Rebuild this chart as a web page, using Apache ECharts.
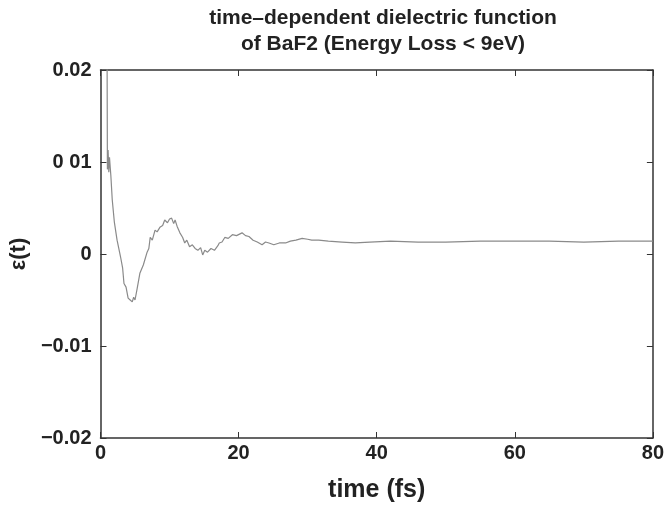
<!DOCTYPE html>
<html>
<head>
<meta charset="utf-8">
<script src="https://cdn.jsdelivr.net/npm/echarts@6/dist/echarts.min.js"></script>
<style>
  html, body { margin: 0; padding: 0; background: #fff; }
  #main { width: 667px; height: 510px; }
</style>
</head>
<body>
<div id="main"></div>
<script>
// time (fs)
var times = [0.9, 1.0, 1.1, 1.2, 1.3, 1.5, 1.7, 2.0, 2.4, 2.6, 2.9, 3.2, 3.4, 3.7, 4.0, 4.3, 4.6, 4.8, 5.0, 5.3,
  5.7, 6.2, 6.75, 7.0, 7.2, 7.5, 7.9, 8.2, 8.6, 9.0, 9.3, 9.7, 10.0, 10.3, 10.6, 10.8, 11.1, 11.5, 11.9, 12.2,
  12.5, 12.9, 13.3, 13.7, 14.1, 14.5, 14.8, 15.1, 15.5, 16.0, 16.5, 17.0, 17.2, 17.6, 18.0, 18.5, 19.1, 19.7,
  20.5, 21.0, 21.5, 22.1, 22.7, 23.4, 23.9, 24.4, 25.1, 25.9, 26.8, 27.5, 28.3, 29.2, 30.0, 30.6, 31.6, 33,
  35, 36.9, 39, 42, 46, 50, 55, 60, 65, 70, 75, 80];
// ε(t)
var eps = [0.035, 0.0092, 0.0113, 0.0089, 0.0105, 0.0085, 0.0059, 0.0035, 0.0015, 0.0013, -0.0003, -0.0015,
  -0.0032, -0.0036, -0.0048, -0.0050, -0.0052, -0.0047, -0.0050, -0.0038, -0.0021, -0.0012, 0.0002, 0.0006,
  0.0018, 0.0015, 0.0026, 0.0024, 0.0029, 0.0031, 0.0037, 0.0034, 0.0038, 0.0039, 0.0033, 0.0037, 0.0030,
  0.0023, 0.0018, 0.0012, 0.0015, 0.0008, 0.0010, 0.0006, 0.0004, 0.0007, -0.0001, 0.0004, 0.0002, 0.0006,
  0.0004, 0.0009, 0.0012, 0.0013, 0.0018, 0.0017, 0.0021, 0.0020, 0.0023, 0.0020, 0.0019, 0.0015, 0.0013,
  0.0010, 0.0013, 0.0012, 0.0010, 0.0012, 0.0012, 0.0014, 0.0015, 0.0017, 0.0016, 0.0015, 0.0015, 0.0014,
  0.0013, 0.0012, 0.0013, 0.0014, 0.0013, 0.0013, 0.0014, 0.0014, 0.0014, 0.0013, 0.0014, 0.0014];
// y tick labels as printed
var yTickLabels = { '0.02': '0.02', '0.01': '0 01', '0': '0', '-0.01': '\u22120.01', '-0.02': '\u22120.02' };

var font = '"Liberation Sans Narrow", "Liberation Sans", Arial, sans-serif';
var points = times.map(function (t, i) { return [t, eps[i]]; });

var chart = echarts.init(document.getElementById('main'));

function frameAxis(extra) {
  return Object.assign({
    axisLine: { show: true, onZero: false, lineStyle: { color: '#333', width: 1.5 } },
    axisTick: { show: true, inside: true, length: 6, lineStyle: { color: '#333', width: 1 } },
    splitLine: { show: false }
  }, extra);
}

chart.setOption({
  animation: false,
  title: {
    text: 'time\u2013dependent dielectric function\nof BaF2 (Energy Loss < 9eV)',
    left: 378,
    textAlign: 'center',
    top: 0,
    textStyle: { fontFamily: font, fontWeight: 'bold', fontSize: 21, lineHeight: 26, color: '#222' }
  },
  grid: { left: 100, right: 10, top: 70, bottom: 72 },
  xAxis: [
    frameAxis({
      type: 'value', min: 0, max: 80, interval: 20,
      name: 'time (fs)', nameLocation: 'middle', nameGap: 40,
      nameTextStyle: { fontFamily: font, fontWeight: 'bold', fontSize: 25, color: '#222' },
      axisLabel: { fontFamily: font, fontWeight: 'bold', fontSize: 20, color: '#222', margin: 5 }
    }),
    frameAxis({
      type: 'value', min: 0, max: 80, interval: 20, position: 'top',
      axisLabel: { show: false }
    })
  ],
  yAxis: [
    frameAxis({
      type: 'value', min: -0.02, max: 0.02, interval: 0.01,
      name: '\u03b5(t)', nameLocation: 'middle', nameGap: 68, nameRotate: 90,
      nameTextStyle: { fontFamily: font, fontWeight: 'bold', fontSize: 22, color: '#222' },
      axisLabel: {
        fontFamily: font, fontWeight: 'bold', fontSize: 20, color: '#222', margin: 9,
        formatter: function (v) {
          var k = String(Math.round(v * 100) / 100);
          return yTickLabels[k] !== undefined ? yTickLabels[k] : k;
        }
      }
    }),
    frameAxis({
      type: 'value', min: -0.02, max: 0.02, interval: 0.01, position: 'right',
      axisLabel: { show: false }
    })
  ],
  series: [{
    type: 'line',
    data: points,
    showSymbol: false,
    clip: true,
    lineStyle: { color: '#8a8a8a', width: 1.2 }
  }]
});
</script>
</body>
</html>
